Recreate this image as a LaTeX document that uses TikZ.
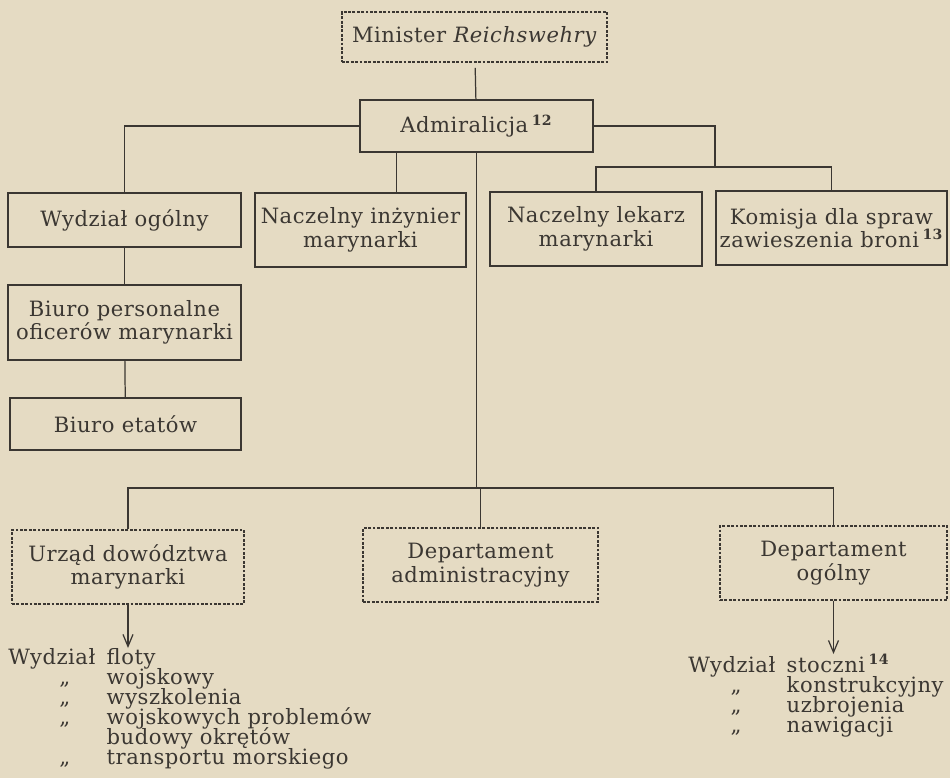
\documentclass[tikz,border=0pt]{standalone}
\usepackage{fontspec}
\setmainfont{DejaVu Serif}[LetterSpace=2.5]
\usetikzlibrary{arrows.meta,positioning,calc}
\definecolor{paper}{HTML}{E5DBC3}
\definecolor{ink}{HTML}{3B3732}
\newcommand{\kol}[2]{\makebox[56pt][l]{#1}#2}
\newcommand{\dito}[1]{\hspace*{#1}„}
\newcommand{\ciasno}{\lineskiplimit=-20pt\relax\lineskip=0pt\relax}
\tikzset{
  >={Straight Barb[length=2.4mm,width=2mm]},
  % pola
  org/.style={draw=ink,line width=0.7pt,align=center,inner sep=2pt,
              text=ink,font=\fontsize{12}{13.3}\selectfont},
  orgd/.style={org,dash pattern=on 1.6pt off 0.9pt},
  % linie
  ln/.style={draw=ink,line width=0.7pt},
  ar/.style={->,draw=ink,line width=0.7pt},
  lst/.style={inner sep=0pt,text=ink,align=left,
              font=\fontsize{12}{11.4}\selectfont\ciasno},
}

\begin{document}
\begin{tikzpicture}[x=0.02cm,y=-0.02cm]
  \fill[paper] (0,0) rectangle (950,778);
  \useasboundingbox (0,0) rectangle (950,778);
  \node[orgd,minimum width=5.3cm,minimum height=1cm] (min) at (474.5,37) {Minister \textit{Reichswehry}};
  \node[org,minimum width=4.66cm,minimum height=1.04cm] (adm) at (476.5,126) {Admiralicja\,\textsuperscript{\bfseries 12}};
  \node[org,minimum width=4.66cm,minimum height=1.08cm] (wog) at (124.5,220) {Wydział ogólny};
  \node[org,minimum width=4.22cm,minimum height=1.48cm] (inz) at (360.5,230) {Naczelny inżynier\\marynarki};
  \node[org,minimum width=4.24cm,minimum height=1.48cm] (lek) at (596,229) {Naczelny lekarz\\marynarki};
  \node[org,minimum width=4.62cm,minimum height=1.48cm] (kom) at (831.5,228) {Komisja dla spraw\\zawieszenia broni\,\textsuperscript{\bfseries 13}};
  \node[org,minimum width=4.66cm,minimum height=1.5cm] (bpo) at (124.5,322.5) {Biuro personalne\\oficerów marynarki};
  \node[org,minimum width=4.62cm,minimum height=1.04cm] (bet) at (125.5,424) {Biuro etatów};
  \node[orgd,minimum width=4.64cm,minimum height=1.48cm] (urz) at (128,567) {Urząd dowództwa\\marynarki};
  \node[orgd,minimum width=4.7cm,minimum height=1.48cm] (dad) at (480.5,565) {Departament\\administracyjny};
  \node[orgd,minimum width=4.54cm,minimum height=1.48cm] (dog) at (833.5,563) {Departament\\ogólny};
  \node[lst,anchor=north west] (lfl) at (8,648) {\kol{Wydział}{floty}\\
    \kol{\dito{29pt}}{wojskowy}\\
    \kol{\dito{29pt}}{wyszkolenia}\\
    \kol{\dito{29pt}}{wojskowych problemów}\\
    \kol{}{budowy okrętów}\\
    \kol{\dito{29pt}}{transportu morskiego}};
  \node[lst,anchor=north west] (lst) at (688,654) {\kol{Wydział}{stoczni\,\textsuperscript{\bfseries 14}}\\
    \kol{\dito{24pt}}{konstrukcyjny}\\
    \kol{\dito{24pt}}{uzbrojenia}\\
    \kol{\dito{24pt}}{nawigacji}};
  \coordinate (rj) at (715,167);
  \coordinate (bus) at (480,488);
  \coordinate (inzt) at ([xshift=0.72cm]inz.north);
  \draw[ln,shorten <=3pt] (min) -- (adm);
  \draw[ln] (adm.west) -| (wog.north);
  \draw[ln] (adm.east) -| (rj);
  \draw[ln] (lek.north) -- (lek.north |- rj) -| (kom.north);
  \draw[ln] (inzt) -- (inzt |- adm.south);
  \draw[ln] (wog) -- (bpo);
  \draw[ln] (bpo) -- (bet);
  \draw[ln] (adm.south) -- (adm.south |- bus);
  \draw[ln] (urz.north) -- (urz.north |- bus) -| (dog.north);
  \draw[ln] (dad.north) -- (dad.north |- bus);
  \draw[ar] (urz.south) -- (urz.south |- lfl.north);
  \draw[ar] (dog.south) -- (dog.south |- lst.north);
\end{tikzpicture}
\end{document}
